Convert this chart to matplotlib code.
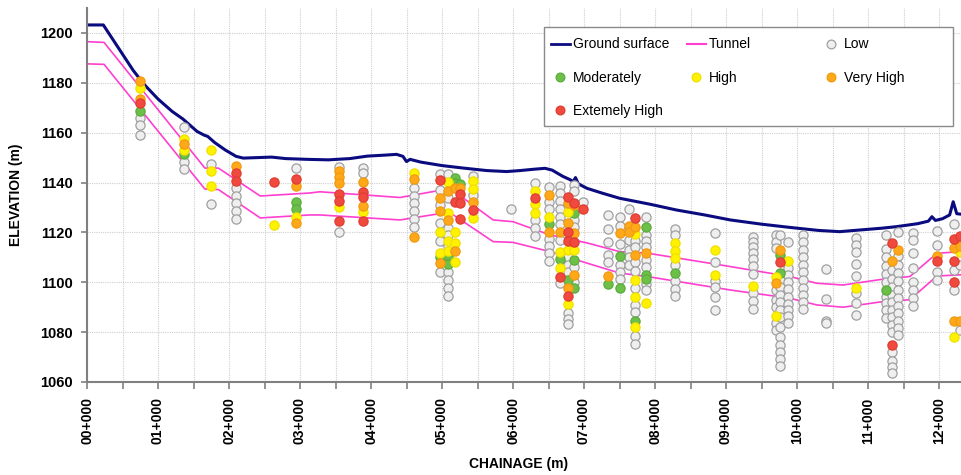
import numpy as np
import matplotlib
matplotlib.use("Agg")
import matplotlib.pyplot as plt
from matplotlib.lines import Line2D
from matplotlib.patches import Rectangle
from matplotlib.ticker import MultipleLocator, FuncFormatter

plt.rcParams['font.family'] = ['Liberation Sans', 'DejaVu Sans']

# ---------------- data ----------------
ground_ch = [0, 0.23, 0.35, 0.5, 0.65, 0.8, 1.0, 1.2, 1.35, 1.55, 1.65, 1.7, 1.8, 1.95, 2.1, 2.2,
             2.4, 2.6, 2.8, 3.1, 3.4, 3.7, 3.95, 4.2, 4.36, 4.45, 4.5, 4.55, 4.7, 5.0, 5.3, 5.63,
             5.91, 6.1, 6.28, 6.45, 6.55, 6.7, 6.8, 6.85, 6.88, 6.92, 7.04, 7.25, 7.5, 7.93, 8.3,
             8.7, 9.06, 9.5, 9.9, 10.3, 10.6, 10.9, 11.2, 11.4, 11.7, 11.85, 11.9, 11.95, 12.05,
             12.15, 12.2, 12.25, 12.31]
ground_el = [1203.2, 1203.2, 1198, 1191.5, 1185, 1179.5, 1173.5, 1168.5, 1165.5, 1160.5, 1159,
             1158.5, 1156, 1153, 1150.5, 1149.8, 1150, 1150.2, 1149.6, 1149.3, 1149.1, 1149.6,
             1150.6, 1151, 1151.3, 1150.5, 1148.4, 1149.3, 1148.2, 1146.8, 1145.8, 1144.8, 1144.4,
             1144.8, 1145.3, 1145.7, 1145, 1142.5, 1141.2, 1140.4, 1142, 1139.5, 1137.7, 1135.8,
             1133.7, 1131.3, 1129, 1127, 1125, 1123.3, 1122, 1120.8, 1120.3, 1121, 1121.7, 1122.3,
             1123.5, 1124.5, 1126.3, 1124.8, 1125.5, 1127, 1132.3, 1127.5, 1127.3]

tunnel_ch = [0, 0.24, 1.66, 1.85, 2.44, 3.14, 3.28, 4.41, 4.92, 5.16, 5.72, 6.0, 6.52, 7.04, 7.5,
             7.89, 9.06, 9.9, 10.28, 10.65, 11.2, 11.59, 11.97, 12.31]
tunnel_top = [1196.5, 1196.2, 1145.8, 1145.8, 1134.6, 1135.8, 1136.3, 1134, 1136.6, 1136.7, 1125,
              1124.3, 1119, 1115.8, 1112.3, 1111.7, 1106.3, 1102.3, 1099.6, 1098.9, 1101.2,
              1102.3, 1111.6, 1112.3]
tunnel_bot = [1187.6, 1187.4, 1137.4, 1137.2, 1125.8, 1127, 1127, 1125, 1127.3, 1127, 1116.3, 1116,
              1112.3, 1107.7, 1103.7, 1102.3, 1096.9, 1093.6, 1090.9, 1090, 1092.2, 1093, 1102.5,
              1103]

# (chainage km, elevation m) per susceptibility class
low = [
    (0.75, 1165.8), (0.75, 1163.1), (0.75, 1159),
    (1.36, 1162.2), (1.36, 1148.1), (1.36, 1145.6),
    (1.75, 1147.3), (1.75, 1131.4),
    (2.10, 1137.7), (2.10, 1134.7), (2.10, 1131.7), (2.10, 1128.6), (2.10, 1125.5),
    (2.95, 1145.7),
    (3.55, 1146.4), (3.55, 1120),
    (3.89, 1145.7), (3.89, 1143.7),
    (4.61, 1137.7), (4.61, 1134.7), (4.61, 1131.7), (4.61, 1128.6), (4.61, 1125.4), (4.61, 1122.3),
    (4.97, 1143.3), (4.97, 1137), (4.97, 1131), (4.97, 1123.7), (4.97, 1116.6), (4.97, 1104.3),
    (5.09, 1143.3), (5.09, 1133.9), (5.09, 1121.7), (5.09, 1119), (5.09, 1114.6), (5.09, 1108.3),
    (5.09, 1104.3), (5.09, 1100.9), (5.09, 1097.6), (5.09, 1094.5),
    (5.43, 1142.8), (5.43, 1135),
    (5.97, 1129.4),
    (6.31, 1139.7), (6.31, 1125), (6.31, 1121.7), (6.31, 1118.7),
    (6.50, 1138.4), (6.50, 1132), (6.50, 1129.3), (6.50, 1117.4), (6.50, 1114.6), (6.50, 1111.7),
    (6.50, 1108.7),
    (6.66, 1138.7), (6.66, 1135.7), (6.66, 1132.4), (6.66, 1129.3), (6.66, 1126.3), (6.66, 1123.3),
    (6.66, 1117), (6.66, 1099.6),
    (6.77, 1110), (6.77, 1107), (6.77, 1104), (6.77, 1087.6), (6.77, 1085.3), (6.77, 1083.3),
    (6.86, 1139), (6.86, 1136.7), (6.86, 1125), (6.86, 1122), (6.86, 1106), (6.86, 1100),
    (6.99, 1132.3),
    (7.34, 1127), (7.34, 1121.3), (7.34, 1116.3), (7.34, 1111), (7.34, 1108.3),
    (7.51, 1126.3), (7.51, 1122.6), (7.51, 1115.4), (7.51, 1107), (7.51, 1104.3), (7.51, 1101.2),
    (7.64, 1129.3), (7.64, 1117), (7.64, 1113), (7.64, 1110), (7.64, 1107),
    (7.72, 1116.5), (7.72, 1114), (7.72, 1108), (7.72, 1104.5), (7.72, 1097.5), (7.72, 1091),
    (7.72, 1088), (7.72, 1078.6), (7.72, 1075.3),
    (7.87, 1126), (7.87, 1119), (7.87, 1116.5), (7.87, 1114), (7.87, 1109), (7.87, 1106),
    (7.87, 1099.5), (7.87, 1097),
    (8.28, 1121.3), (8.28, 1119), (8.28, 1107), (8.28, 1100.7), (8.28, 1097.2), (8.28, 1094.5),
    (8.84, 1119.7), (8.84, 1108.3), (8.84, 1100.5), (8.84, 1098), (8.84, 1094), (8.84, 1088.9),
    (9.38, 1118.3), (9.38, 1116.3), (9.38, 1114.3), (9.38, 1111.9), (9.38, 1109.2), (9.38, 1106.5),
    (9.38, 1103.5), (9.38, 1095.5), (9.38, 1092.3), (9.38, 1089.2),
    (9.70, 1119), (9.70, 1116.3), (9.70, 1113.6), (9.70, 1097), (9.70, 1093), (9.70, 1090),
    (9.70, 1083.5), (9.70, 1081),
    (9.76, 1119), (9.76, 1101), (9.76, 1098), (9.76, 1095), (9.76, 1092), (9.76, 1089), (9.76, 1086),
    (9.76, 1082), (9.76, 1078.2), (9.76, 1075), (9.76, 1072.2), (9.76, 1069.2), (9.76, 1066.4),
    (9.87, 1116.3), (9.87, 1105.6), (9.87, 1102.9), (9.87, 1100.2), (9.87, 1097.2), (9.87, 1094.2),
    (9.87, 1091.2), (9.87, 1089), (9.87, 1086.5), (9.87, 1083.6),
    (10.08, 1119), (10.08, 1116), (10.08, 1113), (10.08, 1110.3), (10.08, 1107), (10.08, 1104),
    (10.08, 1101), (10.08, 1097.6), (10.08, 1095), (10.08, 1092.2), (10.08, 1089.2),
    (10.41, 1105.2), (10.41, 1093.2), (10.41, 1084.6), (10.41, 1083.6),
    (10.83, 1117.6), (10.83, 1115), (10.83, 1112), (10.83, 1107.3), (10.83, 1102.5), (10.83, 1095.5),
    (10.83, 1091.8), (10.83, 1086.9),
    (11.26, 1119), (11.26, 1113.3), (11.26, 1110), (11.26, 1106.7), (11.26, 1103.3), (11.26, 1100.2),
    (11.26, 1094.2), (11.26, 1091.5), (11.26, 1088.9), (11.26, 1085.5),
    (11.34, 1105), (11.34, 1101.5), (11.34, 1098), (11.34, 1095), (11.34, 1092), (11.34, 1089),
    (11.34, 1086), (11.34, 1083), (11.34, 1080), (11.34, 1072), (11.34, 1068.5), (11.34, 1066),
    (11.34, 1063.8),
    (11.42, 1120), (11.42, 1110.4), (11.42, 1107), (11.42, 1103.7), (11.42, 1100.4), (11.42, 1097),
    (11.42, 1093.7), (11.42, 1090.6), (11.42, 1087.7), (11.42, 1084.4), (11.42, 1081.7), (11.42, 1079),
    (11.64, 1119.7), (11.64, 1117), (11.64, 1111.6), (11.64, 1105.6), (11.64, 1100.2), (11.64, 1096.9),
    (11.64, 1093.5), (11.64, 1090.5),
    (11.97, 1120.6), (11.97, 1115), (11.97, 1104.2), (11.97, 1100.9),
    (12.21, 1123.4), (12.21, 1105), (12.21, 1096.9),
    (12.30, 1107), (12.30, 1081),
]
moderately = [
    (0.75, 1168.8), (1.36, 1151.5), (2.95, 1132.3), (2.95, 1129.3),
    (4.97, 1110.3), (5.09, 1110.3), (5.09, 1107.2), (5.18, 1141.7), (5.18, 1140), (5.25, 1139.4),
    (6.50, 1123.4), (6.66, 1109.2), (6.77, 1100.9), (6.86, 1127.7), (6.86, 1109), (6.86, 1097.6),
    (7.34, 1099.2), (7.51, 1110.6), (7.51, 1097.9), (7.72, 1084.6), (7.87, 1122), (7.87, 1103),
    (7.87, 1101.3), (8.28, 1103.9), (9.76, 1111), (9.76, 1103.9), (11.26, 1096.9),
]
high = [
    (0.75, 1177.8), (1.36, 1157.4), (1.36, 1153), (1.75, 1153), (1.75, 1144.6), (1.75, 1138.6),
    (2.63, 1123), (2.95, 1126.1), (3.55, 1130.3), (3.89, 1128.1), (4.61, 1144),
    (4.97, 1120.3), (4.97, 1111.9), (5.09, 1140.4), (5.09, 1127.7), (5.09, 1116.6), (5.09, 1112.5),
    (5.18, 1120.3), (5.18, 1115.6), (5.18, 1108), (5.43, 1140.6), (5.43, 1137.3), (5.43, 1125.7),
    (6.31, 1136.7), (6.31, 1131.3), (6.31, 1127.9), (6.50, 1126.1), (6.66, 1112.3), (6.66, 1105.6),
    (6.77, 1128.3), (6.77, 1113), (6.77, 1091.2), (6.86, 1113),
    (7.72, 1119.3), (7.72, 1101), (7.72, 1094.2), (7.72, 1081.9), (7.87, 1091.6),
    (8.28, 1115.9), (8.28, 1112.5), (8.28, 1109.6), (8.84, 1113), (8.84, 1102.9), (9.38, 1098.5),
    (9.70, 1102), (9.70, 1086.5), (9.87, 1108.5), (10.83, 1097.6), (12.21, 1077.9), (12.30, 1112),
]
very_high = [
    (0.75, 1180.9), (0.75, 1173.4), (1.36, 1155.4), (2.10, 1146.6), (2.95, 1138.8), (2.95, 1123.9),
    (3.55, 1144.6), (3.55, 1142.4), (3.55, 1139.7), (3.89, 1140.4), (3.89, 1130.7),
    (4.61, 1141.4), (4.61, 1118), (4.97, 1133.9), (4.97, 1128.6), (4.97, 1107.6),
    (5.09, 1136.7), (5.09, 1125), (5.18, 1137.7), (5.18, 1112.5), (5.25, 1138), (5.43, 1132.3),
    (6.50, 1135), (6.50, 1120), (6.66, 1120.3), (6.77, 1131.9), (6.77, 1123.7), (6.77, 1097.6),
    (6.86, 1130.8), (6.86, 1119.7), (6.86, 1103),
    (7.34, 1102.5), (7.51, 1119.7), (7.64, 1122.5), (7.64, 1120), (7.72, 1122.3), (7.72, 1111),
    (7.87, 1111.6), (9.70, 1099.6), (9.76, 1113), (11.34, 1108.7), (11.42, 1113),
    (11.97, 1110.5), (12.21, 1113.6), (12.21, 1084.6), (12.30, 1114.5), (12.30, 1084.5),
]
extremely_high = [
    (0.75, 1172), (2.10, 1143.7), (2.10, 1140.8), (2.63, 1140.4), (2.95, 1141.4),
    (3.55, 1135.4), (3.55, 1132.7), (3.55, 1124.7), (3.89, 1136.4), (3.89, 1134.3), (3.89, 1124.7),
    (4.97, 1141), (5.18, 1132.1), (5.25, 1135.3), (5.25, 1131.7), (5.25, 1125.4), (5.43, 1129),
    (6.31, 1133.9), (6.66, 1102), (6.77, 1134.1), (6.77, 1120.3), (6.77, 1116.7), (6.77, 1094.5),
    (6.86, 1131.9), (6.86, 1116.3), (6.99, 1129.3), (7.72, 1125.7), (9.76, 1108.3),
    (11.34, 1115.6), (11.34, 1074.9), (11.97, 1108.7), (12.21, 1117.3), (12.21, 1108.7),
    (12.21, 1100.2), (12.30, 1118.5),
]

y_ticks = [1060, 1080, 1100, 1120, 1140, 1160, 1180, 1200]

# ---------------- figure ----------------
W, H = 961, 475
fig = plt.figure(figsize=(W / 100, H / 100), dpi=100)
ax = fig.add_axes([87 / W, 1 - 382 / H, (W - 87) / W, (382 - 8) / H])

ax.set_xlim(0, (W - 87) / 71.0)
ax.set_ylim(1060, 1210)

grid_kw = dict(color='#cfcfcf', linestyle=(0, (1, 1)), linewidth=0.8)
ax.xaxis.set_major_locator(MultipleLocator(1))
ax.xaxis.set_minor_locator(MultipleLocator(0.5))
ax.set_yticks(y_ticks)
ax.grid(True, which='both', axis='x', **grid_kw)
ax.grid(True, which='major', axis='y', **grid_kw)
ax.set_axisbelow(True)

ax.xaxis.set_major_formatter(FuncFormatter(lambda v, p: f"{int(round(v)):02d}+000"))
ax.tick_params(axis='x', which='major', labelrotation=90, labelsize=10, length=5, width=1.2,
               color='#808080', pad=6)
ax.tick_params(axis='x', which='minor', length=5, width=1.2, color='#808080')
ax.tick_params(axis='y', labelsize=10.5, length=4, width=1.2, color='#808080', pad=6.5)
for lab in ax.get_xticklabels() + ax.get_yticklabels():
    lab.set_fontweight('bold')

for s in ['top', 'right']:
    ax.spines[s].set_visible(False)
for s in ['left', 'bottom']:
    ax.spines[s].set_color('#808080')
    ax.spines[s].set_linewidth(1.5)

# lines
ax.plot(tunnel_ch, tunnel_top, color='#ff3fd0', lw=1.2, zorder=2)
ax.plot(tunnel_ch, tunnel_bot, color='#ff3fd0', lw=1.2, zorder=2)
ax.plot(ground_ch, ground_el, color='#0b0b80', lw=2.2, zorder=2)

styles = [
    (low, '#efefef', '#a0a0a0'),
    (moderately, '#6cc04a', '#5aac3c'),
    (high, '#fff200', '#f0e000'),
    (very_high, '#ffa91a', '#f09a10'),
    (extremely_high, '#f04a3e', '#e03c32'),
]
for pts, fc, ec in styles:
    arr = np.array(pts)
    ax.scatter(arr[:, 0], arr[:, 1], s=44, facecolor=fc, edgecolor=ec, linewidth=0.9, zorder=3)

ax.set_xlabel('CHAINAGE (m)', fontsize=10, fontweight='bold')
ax.set_ylabel('ELEVATION (m)', fontsize=10, fontweight='bold')
ax.xaxis.set_label_coords((519 - 87) / (W - 87), -(457 - 382) / (382 - 8))
ax.yaxis.set_label_coords(-(87 - 23) / (W - 87), 0.5)

# legend (three columns, common frame)
def mk(kind, fc=None, ec=None, color=None):
    if kind == 'line':
        return Line2D([], [], color=color, lw=2 if color == '#0b0b80' else 1.5)
    return Line2D([], [], ls='none', marker='o', markersize=6.3, markerfacecolor=fc,
                  markeredgecolor=ec, markeredgewidth=0.9)

cols = [
    ([mk('line', color='#0b0b80'), mk('m', '#6cc04a', '#5aac3c'), mk('m', '#f04a3e', '#e03c32')],
     ['Ground surface', 'Moderately', 'Extemely High'], 551),
    ([mk('line', color='#ff3fd0'), mk('m', '#fff200', '#f0e000')], ['Tunnel', 'High'], 687),
    ([mk('m', '#efefef', '#a0a0a0'), mk('m', '#ffa91a', '#f09a10')], ['Low', 'Very High'], 822),
]
frame = Rectangle((544 / W, 1 - 126 / H), (953 - 544) / W, (126 - 27) / H, transform=fig.transFigure,
                  facecolor='white', edgecolor='#8a8a8a', linewidth=1.0, zorder=4)
fig.add_artist(frame)
for handles, labels, xpx in cols:
    leg = fig.legend(handles, labels, loc='upper left', bbox_to_anchor=(xpx / W, 1 - 37.5 / H),
                     frameon=False, fontsize=10, handlelength=1.35, handletextpad=0.25,
                     labelspacing=1.38, borderpad=0, borderaxespad=0)
    leg.set_zorder(5)

fig.savefig('out.png', dpi=100)
